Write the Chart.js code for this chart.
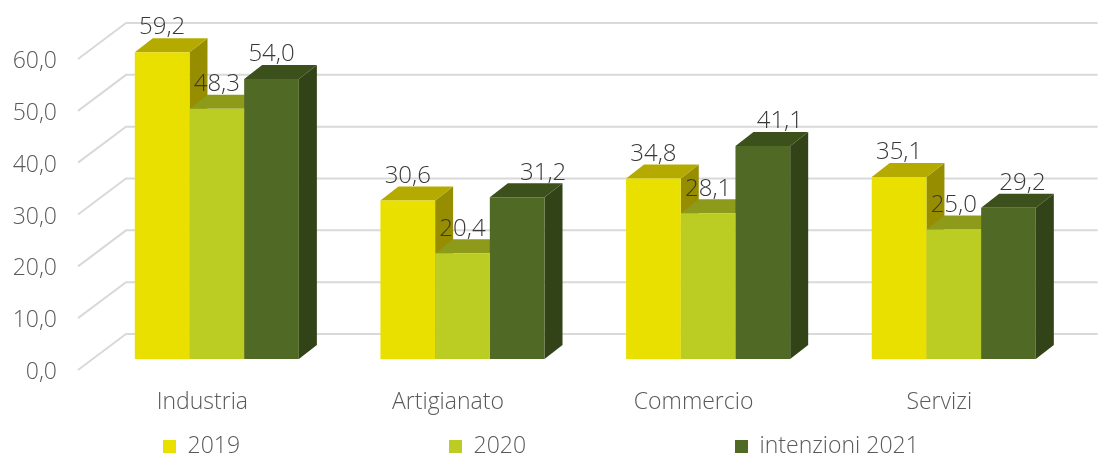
<!DOCTYPE html>
<html><head><meta charset="utf-8">
<style>html,body{margin:0;padding:0;background:#fff}canvas{display:block}</style>
<script src="https://cdn.jsdelivr.net/npm/chart.js@4"></script>
</head><body><canvas id="c" width="1099" height="454"></canvas>
<script>
const categories = ["Industria","Artigianato","Commercio","Servizi"];
const series2019 = [59.2,30.6,34.8,35.1];
const series2020 = [48.3,20.4,28.1,25.0];
const series2021 = [54.0,31.2,41.1,29.2];
const seriesNames = ["2019","2020","intenzioni 2021"];
const frontColors = ["#EAE000","#BBCC22","#506A26"];
const topColors = ["#B5AB00","#8D9A1A","#3C501C"];
const sideColors = ["#968D00","#7A8516","#334318"];
const labelShiftX = [[0,0,0,0],[0,0,0,0],[0,26,17,14]];
const FONT = "'Open Sans'";
const FS = 23;
const WEIGHT = 300;
const TEXT = "#595959";
const DX = 18, DY = 14;
const fmt = v => Number(v).toFixed(1).replace(".", ",");

const threeD = {
  id: "threeD",
  afterLayout(chart) {
    const y = chart.scales.y, x = chart.scales.x;
    y.getLabelItems(chart.chartArea).forEach(i => { i.options.translation[1] += 13.5; });
    x.getLabelItems(chart.chartArea).forEach(i => { i.options.translation[0] -= 14.5; });
    const lg = chart.legend, pad = lg.options.labels.padding;
    lg.top = 448 - pad - 13;
    lg.left = 163 - pad;
    lg.right = 3000;
    lg.lineWidths = [700];
  },
  beforeDatasetsDraw(chart) {
    const { ctx, chartArea: a, scales: { y } } = chart;
    ctx.save();
    ctx.strokeStyle = "#D9D9D9";
    ctx.lineWidth = 2;
    y.ticks.forEach(t => {
      const p = y.getPixelForValue(t.value);
      ctx.beginPath();
      ctx.moveTo(a.left - 16, p + 11);
      ctx.lineTo(a.left + 32, p - 25);
      ctx.lineTo(a.right + 21, p - 25);
      ctx.stroke();
    });
    chart.data.datasets.forEach((ds, di) => {
      chart.getDatasetMeta(di).data.forEach(b => {
        const l = b.x - b.width / 2, r = b.x + b.width / 2, t = b.y, bt = b.base;
        ctx.fillStyle = sideColors[di];
        ctx.beginPath();
        ctx.moveTo(r, t); ctx.lineTo(r + DX, t - DY); ctx.lineTo(r + DX, bt - DY); ctx.lineTo(r, bt);
        ctx.closePath(); ctx.fill();
        ctx.fillStyle = topColors[di];
        ctx.beginPath();
        ctx.moveTo(l, t); ctx.lineTo(l + DX, t - DY); ctx.lineTo(r + DX, t - DY); ctx.lineTo(r, t);
        ctx.closePath(); ctx.fill();
      });
    });
    ctx.restore();
  },
  afterDatasetsDraw(chart) {
    const { ctx } = chart;
    ctx.save();
    ctx.font = `${WEIGHT} 24px ${FONT}`;
    ctx.fillStyle = "#383838";
    ctx.textAlign = "center";
    ctx.textBaseline = "middle";
    chart.data.datasets.forEach((ds, di) => {
      chart.getDatasetMeta(di).data.forEach((b, i) => {
        ctx.fillText(fmt(ds.data[i]), b.x + labelShiftX[di][i], b.y - 24.5);
      });
    });
    ctx.restore();
  }
};

const tickFont = { family: FONT, size: FS, weight: WEIGHT };
new Chart(document.getElementById("c"), {
  type: "bar",
  data: {
    labels: categories,
    datasets: [series2019, series2020, series2021].map((d, i) => ({
      label: seriesNames[i], data: d, backgroundColor: frontColors[i], borderWidth: 0,
      categoryPercentage: 0.668, barPercentage: 1
    }))
  },
  options: {
    responsive: false, animation: false,
    layout: { padding: { left: 10, right: 22.4, top: 48, bottom: 0 } },
    scales: {
      x: {
        grid: { display: false }, border: { display: false },
        ticks: { color: TEXT, font: tickFont, padding: 22, maxRotation: 0 },
        afterFit(s) { s.height = 59; s.paddingLeft = 0; s.paddingRight = 0; }
      },
      y: {
        min: 0, max: 60,
        grid: { display: false, drawTicks: false }, border: { display: false },
        ticks: { stepSize: 10, color: TEXT, font: tickFont, padding: 37, callback: v => fmt(v) },
        afterFit(s) { s.width = 84; s.paddingTop = 0; s.paddingBottom = 0; }
      }
    },
    plugins: {
      tooltip: { enabled: false },
      title: { display: false },
      legend: {
        position: "bottom", align: "start", maxHeight: 36,
        labels: { boxWidth: 13, boxHeight: 13, padding: 209, color: TEXT, font: tickFont }
      }
    }
  },
  plugins: [threeD]
});
</script></body></html>
